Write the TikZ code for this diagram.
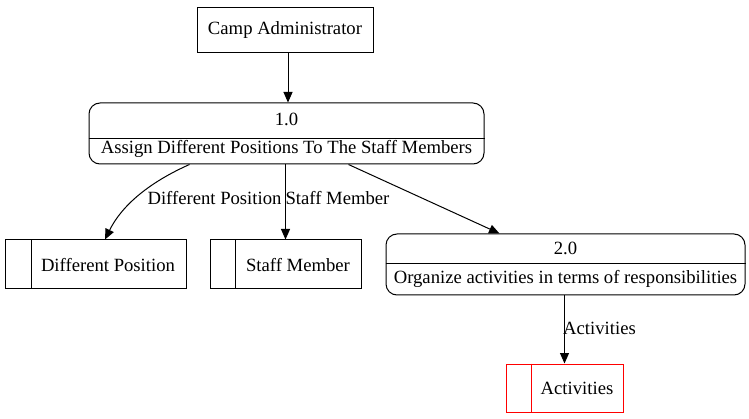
\documentclass[tikz,border=0pt]{standalone}
\usepackage{fontspec}
\setmainfont{Liberation Serif}
\usetikzlibrary{arrows.meta,calc}
\begin{document}
\begin{tikzpicture}[x=1pt,y=-1pt,
  every node/.style={font=\fontsize{18.67}{22}\selectfont, inner sep=0pt},
  ext/.style={draw, line width=1pt, rectangle},
  proc/.style={draw, line width=1pt, rectangle, rounded corners=11pt},
  store/.style={draw, line width=1pt, rectangle},
  flow/.style={draw, line width=1pt, -{Triangle[length=10.5pt,width=9pt]}},
  lbl/.style={fill=none}
]
\useasboundingbox (0,0) rectangle (749,419);

% external entity
\node[ext, minimum width=176pt, minimum height=45pt] (camp) at (285,30.5) {Camp Administrator};

% process 1.0
\node[proc, minimum width=395pt, minimum height=61pt] (p1) at (286.5,133.5) {};
\draw[line width=1pt] ($(p1.north west)+(0,36)$) -- ($(p1.north east)+(0,36)$);
\node (p1id) at ($(p1.north)+(0,17)$) {1.0};
\node (p1t) at ($(p1.north)+(0,46)$) {Assign Different Positions To The Staff Members};

% process 2.0
\node[proc, minimum width=359pt, minimum height=61pt] (p2) at (565.5,264.5) {};
\draw[line width=1pt] ($(p2.north west)+(0,30)$) -- ($(p2.north east)+(0,30)$);
\node (p2id) at ($(p2.north)+(0,15)$) {2.0};
\node (p2t) at ($(p2.north)+(0,45)$) {Organize activities in terms of responsibilities};

% data stores
\node[store, minimum width=181pt, minimum height=49pt] (dp) at (95.5,264.5) {};
\draw[line width=1pt] ($(dp.north west)+(27,0)$) -- ($(dp.south west)+(27,0)$);
\node (dpt) at (108,265) {Different Position};

\node[store, minimum width=151pt, minimum height=49pt] (sm) at (285.5,264.5) {};
\draw[line width=1pt] ($(sm.north west)+(26,0)$) -- ($(sm.south west)+(26,0)$);
\node (smt) at (298,265) {Staff Member};

\node[store, draw=red, minimum width=117pt, minimum height=48pt] (act) at (564.5,388) {};
\draw[line width=1pt, red] ($(act.north west)+(26,0)$) -- ($(act.south west)+(26,0)$);
\node (actt) at (577,388) {Activities};

% flows
\draw[flow] (camp.south -| p1.north) ++(1.5,0) coordinate (c1) -- (c1 |- p1.north);
\draw[flow] ($(p1.south west)+(101,0)$) .. controls (150,182) and (122,205) .. (dp.north -| 105,0);
\node[lbl] (l1) at (214.5,198) {Different Position};
\draw[flow] (p1.south -| sm.north) -- (sm.north);
\node[lbl] (l2) at (337.5,198) {Staff Member};
\draw[flow] ($(p1.south west)+(260,0)$) -- ($(p2.north west)+(114,0)$);
\draw[flow] (p2.south -| act.north) -- (act.north);
\node[lbl] (l3) at (599.5,328) {Activities};
\end{tikzpicture}
\end{document}
